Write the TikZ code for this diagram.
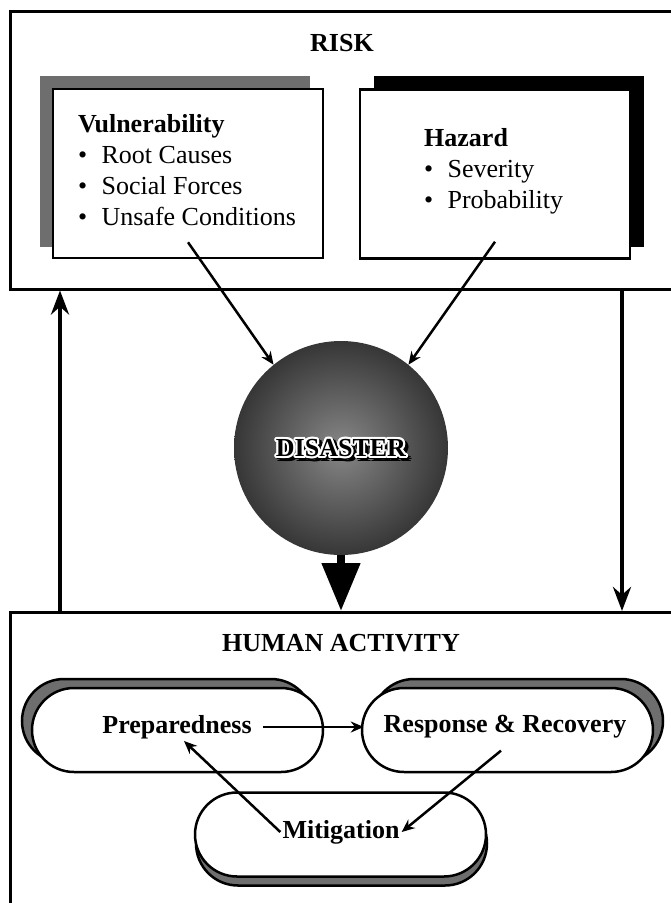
\documentclass[tikz,border=0pt]{standalone}
\usepackage{fontspec}
\setmainfont{Liberation Serif}
\usepackage{tikz}
\usetikzlibrary{shapes,arrows,arrows.meta}
\tikzstyle{frame} = [rectangle, draw, line width=2.5pt, anchor=north west]
\tikzstyle{block} = [rectangle, draw, line width=2.5pt, fill=white, minimum width=270pt, minimum height=169pt]
\tikzstyle{shadowbox} = [rectangle, minimum width=270pt, minimum height=171pt]
\tikzstyle{pill} = [rectangle, draw, line width=2.5pt, fill=white, rounded corners=42pt, minimum width=291pt, minimum height=84pt]
\tikzstyle{txt} = [inner sep=2pt, font=\fontsize{26}{31}\selectfont]
\tikzstyle{boldtxt} = [inner sep=2pt, font=\fontsize{26}{31}\selectfont\bfseries]
\tikzstyle{arrow} = [draw, -{Stealth[length=13pt,width=11pt]}, line width=2.5pt]
\tikzstyle{bigarrow} = [draw, -{Stealth[length=24pt,width=18pt]}, line width=4pt]
\definecolor{bgray}{HTML}{6E6E6E}
\pgfdeclareradialshading{disastershade}{\pgfpoint{0bp}{0bp}}{color(0bp)=(black!47); color(15bp)=(black!66); color(30bp)=(black!85); color(40bp)=(black!95); color(50bp)=(black)}
\newcommand{\riskitem}[1]{\textbullet\hspace{0.55em}#1}

\begin{document}
\begin{tikzpicture}[x=1pt, y=-1pt]
\useasboundingbox (0,0) rectangle (670,903);

%% risk
\node[frame, minimum width=680pt, minimum height=278pt] (risk) at (9,10) {};
\node[boldtxt] (risktitle) at (342,43) {RISK};

\node[shadowbox, fill=bgray] (vulnshadow) at (175,161) {};
\node[block] (vuln) at (188,173.5) {};
\node[txt, inner sep=0pt, anchor=west, align=left] (vulntext) at (78,170) {\textbf{Vulnerability}\\ \riskitem{Root Causes}\\ \riskitem{Social Forces}\\ \riskitem{Unsafe Conditions}};

\node[shadowbox, fill=black] (hazardshadow) at (508.5,161) {};
\node[block] (hazard) at (495,174) {};
\node[txt, inner sep=0pt, anchor=west, align=left] (hazardtext) at (424,171) {\textbf{Hazard}\\ \riskitem{Severity}\\ \riskitem{Probability}};

%% disaster
\node[circle, minimum size=214pt, inner sep=0pt, shading=disastershade] (disaster) at (341,448) {};
\foreach \a in {0,45,...,315}
  \node[boldtxt, xshift=3pt, yshift=-3pt] at ([shift={(\a:2.5)}]disaster.center) {DISASTER};
\foreach \a in {0,30,...,330}
  \node[boldtxt, text=white] at ([shift={(\a:2.2)}]disaster.center) {DISASTER};
\node[boldtxt] (disastertext) at (disaster.center) {DISASTER};

\path[arrow] ([yshift=17pt]vuln.south) -- (disaster.129);
\path[arrow] ([yshift=18pt]hazard.south) -- (disaster.51);

%% human activity
\node[frame, minimum width=680pt, minimum height=320pt] (human) at (9,611) {};
\node[boldtxt] (humantitle) at (341,643) {HUMAN ACTIVITY};

\path[draw, line width=8pt, -{Triangle[length=48pt,width=37pt]}] (disaster.south) -- (disaster.south |- human.north);
\path[bigarrow] ([xshift=51pt]human.north west) -- ([xshift=51pt]risk.south west);
\path[bigarrow] ([xshift=613pt]risk.south west) -- ([xshift=613pt]human.north west);

\node[pill, fill=bgray] (prepshadow) at (167.5,721) {};
\node[pill] (prep) at (177.5,730) {};
\node[boldtxt] (preplbl) at (177,727) {Preparedness};

\node[pill, fill=bgray] (respshadow) at (517.5,721) {};
\node[pill] (resp) at (507.5,730) {};
\node[boldtxt] (resplbl) at (505,727) {Response \& Recovery};

\node[pill, fill=bgray] (mitigshadow) at (341.5,843.5) {};
\node[pill] (mitig) at (340.5,834.5) {};
\node[boldtxt] (mitiglbl) at (341,832) {Mitigation};

\path[arrow] ([xshift=9pt]preplbl.east) -- ([xshift=3pt]preplbl.east -| resp.west);
\path[arrow] ([shift={(-4pt,-10pt)}]resplbl.south) -- (mitiglbl.east);
\path[arrow] (mitiglbl.west) -- ([xshift=7pt]preplbl.south);
\end{tikzpicture}
\end{document}
